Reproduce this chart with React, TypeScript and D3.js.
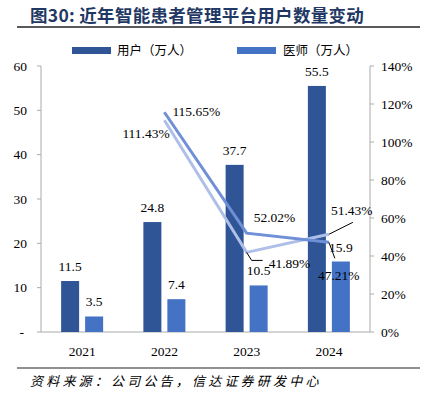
import React from "react";
import { scaleBand, scaleLinear, line } from "d3";

const years = ["2021", "2022", "2023", "2024"];
const users = [11.5, 24.8, 37.7, 55.5];
const doctors = [3.5, 7.4, 10.5, 15.9];
const userGrowth = [null, 115.65, 52.02, 47.21];
const doctorGrowth = [null, 111.43, 41.89, 51.43];
const leftTicks = [0, 10, 20, 30, 40, 50, 60];
const rightTicks = [0, 20, 40, 60, 80, 100, 120, 140];

const W = 425;
const H = 393;
const left = 41;
const right = 370;
const top = 66;
const bottom = 332;

const serif = "'Liberation Serif', 'Times New Roman', serif";
const cjk = "'Noto Sans CJK SC', sans-serif";

const C_USER = "#2f5597";
const C_DOC = "#4472c4";
const C_UG = "#6f8fd6";
const C_DG = "#aebfe8";

// label offsets for growth points (dx, dy, leader)
const userGrowthLabels = [
  null,
  { dx: 8, dy: 4, leader: null },
  { dx: 7, dy: -11, leader: null },
  { dx: -11, dy: 38, leader: [[0, 0], [6, 16]] },
];
const doctorGrowthLabels = [
  null,
  { dx: -42, dy: 18, leader: null },
  { dx: 22, dy: 16, leader: [[0, 0], [5, 8], [16, 8]] },
  { dx: 2, dy: -19, leader: [[0, 0], [24, -12]] },
];

export default function App() {
  const x = scaleBand().domain(years).range([left, right]).padding(0);
  const y = scaleLinear().domain([0, 60]).range([bottom, top]);
  const y2 = scaleLinear().domain([0, 140]).range([bottom, top]);
  const bw = 18;
  const gap = 3;
  const cx = (i: number) => (x(years[i]) as number) + x.bandwidth() / 2;

  const mkLine = (vals: (number | null)[]) =>
    line<number | null>()
      .defined((d) => d !== null)
      .x((_, i) => cx(i))
      .y((d) => y2(d as number))(vals) as string;

  const growthLabels = (
    vals: (number | null)[],
    cfg: any[],
    key: string
  ) =>
    vals.map((v, i) => {
      if (v === null) return null;
      const c = cfg[i];
      const px = cx(i);
      const py = y2(v);
      return (
        <g key={key + i}>
          {c.leader && (
            <polyline
              points={c.leader.map((p: number[]) => `${px + p[0]},${py + p[1]}`).join(" ")}
              fill="none"
              stroke="#000"
              strokeWidth={1}
            />
          )}
          <text x={px + c.dx} y={py + c.dy} fontSize={13.5} fontFamily={serif}>
            {v.toFixed(2)}%
          </text>
        </g>
      );
    });

  return (
    <svg width={W} height={H} style={{ position: "absolute", left: 0, top: 0, background: "#fff" }}>
      <rect width={W} height={H} fill="#fff" />
      <text x={30} y={22} fontSize={17.5} fontWeight="bold" fill="#1f3864" fontFamily={cjk} letterSpacing={0.3}>
        图30: 近年智能患者管理平台用户数量变动
      </text>
      <line x1={17} x2={420} y1={27} y2={27} stroke="#222" strokeWidth={1.5} />

      {/* legend */}
      <rect x={72} y={47} width={39} height={7} fill={C_USER} />
      <text x={117} y={55} fontSize={12.5} fontFamily={cjk}>用户（万人）</text>
      <rect x={237} y={47} width={39} height={7} fill={C_DOC} />
      <text x={283} y={55} fontSize={12.5} fontFamily={cjk}>医师（万人）</text>

      {/* axes */}
      <line x1={left} x2={left} y1={top} y2={bottom} stroke="#aaa" />
      <line x1={right} x2={right} y1={top} y2={bottom} stroke="#aaa" />
      <line x1={left} x2={right} y1={bottom} y2={bottom} stroke="#aaa" />
      {leftTicks.map((t) => (
        <g key={"l" + t}>
          <line x1={left - 4} x2={left} y1={y(t)} y2={y(t)} stroke="#aaa" />
          <text x={t === 0 ? 24 : 27} y={y(t) + 4.5} textAnchor="end" fontSize={13.5} fontFamily={serif}>
            {t === 0 ? "-" : t}
          </text>
        </g>
      ))}
      {rightTicks.map((t) => (
        <g key={"r" + t}>
          <line x1={right} x2={right + 4} y1={y2(t)} y2={y2(t)} stroke="#aaa" />
          <text x={381} y={y2(t) + 4.5} fontSize={13.5} fontFamily={serif}>
            {t}%
          </text>
        </g>
      ))}
      {years.map((yr, i) => (
        <text key={yr} x={cx(i)} y={356} textAnchor="middle" fontSize={13.5} fontFamily={serif}>
          {yr}
        </text>
      ))}

      {/* bars */}
      {users.map((v, i) => (
        <g key={"u" + i}>
          <rect x={cx(i) - gap - bw} y={y(v)} width={bw} height={bottom - y(v)} fill={C_USER} />
          <text x={cx(i) - gap - bw / 2} y={y(v) - 10} textAnchor="middle" fontSize={13.5} fontFamily={serif}>
            {v}
          </text>
        </g>
      ))}
      {doctors.map((v, i) => (
        <g key={"d" + i}>
          <rect x={cx(i) + gap} y={y(v)} width={bw} height={bottom - y(v)} fill={C_DOC} />
          <text x={cx(i) + gap + bw / 2} y={y(v) - 10} textAnchor="middle" fontSize={13.5} fontFamily={serif}>
            {v}
          </text>
        </g>
      ))}

      {/* growth lines */}
      <path d={mkLine(doctorGrowth)} fill="none" stroke={C_DG} strokeWidth={3} />
      <path d={mkLine(userGrowth)} fill="none" stroke={C_UG} strokeWidth={3} />
      {growthLabels(userGrowth, userGrowthLabels, "ug")}
      {growthLabels(doctorGrowth, doctorGrowthLabels, "dg")}

      {/* footer */}
      <line x1={17} x2={420} y1={368} y2={368} stroke="#222" strokeWidth={1.2} />
      <text x={30} y={386} fontSize={13} fontStyle="italic" letterSpacing={3.2} fontFamily={cjk}>
        资料来源：公司公告，信达证券研发中心
      </text>
    </svg>
  );
}
